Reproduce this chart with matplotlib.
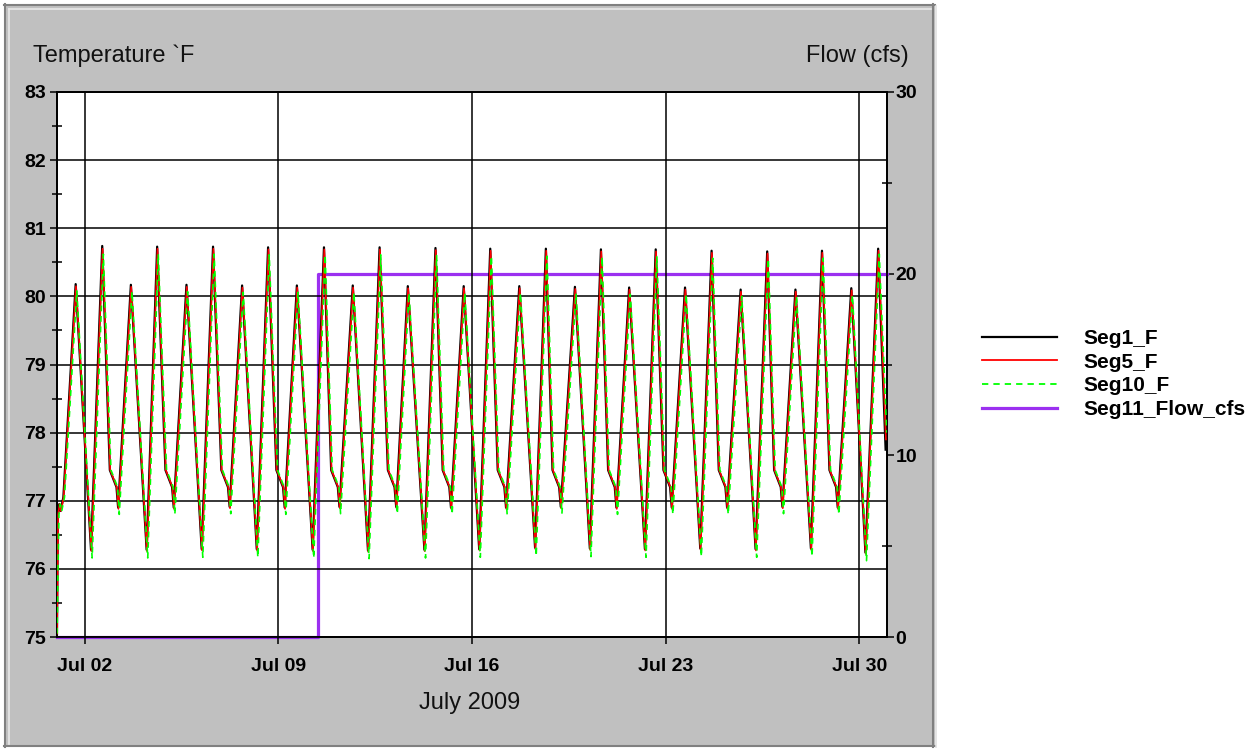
import numpy as np
import matplotlib
matplotlib.use('Agg')
import matplotlib.pyplot as plt
import matplotlib.dates as mdates
from matplotlib.ticker import MultipleLocator
from matplotlib.patches import Rectangle
from matplotlib.lines import Line2D

plt.rcParams['font.family'] = ['Liberation Sans', 'DejaVu Sans']

# ---- data (days after 2009-07-01 00:00) ----
start_t = [0.0, 0.03, 0.08, 0.13, 0.18, 0.23]
start_v = [75.05, 76.80, 76.95, 76.85, 76.95, 77.05]

peak_t = [0.675, 1.635, 2.67, 3.62, 4.68, 5.64, 6.69, 7.63, 8.67, 9.65,
          10.69, 11.66, 12.68, 13.68, 14.70, 15.66, 16.71, 17.67, 18.72, 19.66,
          20.68, 21.64, 22.70, 23.66, 24.71, 25.67, 26.69, 27.65, 28.71, 29.68]
seg1_peak = [80.18, 80.74, 80.17, 80.73, 80.17, 80.73, 80.16, 80.72, 80.16, 80.72,
             80.16, 80.72, 80.15, 80.71, 80.15, 80.70, 80.15, 80.70, 80.14, 80.69,
             80.13, 80.69, 80.13, 80.67, 80.10, 80.66, 80.10, 80.67, 80.12, 80.70]
seg5_peak = [80.15, 80.70, 80.14, 80.70, 80.14, 80.70, 80.13, 80.69, 80.13, 80.69,
             80.13, 80.69, 80.12, 80.68, 80.12, 80.67, 80.12, 80.67, 80.11, 80.66,
             80.10, 80.66, 80.10, 80.64, 80.07, 80.63, 80.07, 80.64, 80.09, 80.67]
seg10_peak = [80.08, 80.62, 80.07, 80.62, 80.07, 80.62, 80.06, 80.61, 80.06, 80.61,
              80.06, 80.61, 80.05, 80.60, 80.05, 80.59, 80.05, 80.59, 80.04, 80.58,
              80.03, 80.58, 80.03, 80.56, 80.00, 80.55, 80.00, 80.56, 80.02, 80.62]

trough_t = [1.23, 2.21, 3.24, 4.22, 5.23, 6.24, 7.22, 8.23, 9.24, 10.21,
            11.24, 12.26, 13.28, 14.24, 15.26, 16.23, 17.28, 18.21, 19.26, 20.22,
            21.25, 22.22, 23.25, 24.22, 25.25, 26.22, 27.25, 28.22, 29.22]
seg1_trough = [76.28, 76.90, 76.28, 76.90, 76.29, 76.91, 76.29, 76.90, 76.28, 76.91,
               76.27, 76.91, 76.28, 76.90, 76.29, 76.90, 76.31, 76.91, 76.30, 76.90,
               76.29, 76.90, 76.30, 76.90, 76.29, 76.91, 76.30, 76.90, 76.24]
seg5_trough = [76.26, 76.88, 76.26, 76.88, 76.27, 76.89, 76.27, 76.88, 76.26, 76.89,
               76.25, 76.89, 76.26, 76.88, 76.27, 76.88, 76.29, 76.89, 76.28, 76.88,
               76.27, 76.88, 76.28, 76.88, 76.27, 76.89, 76.28, 76.88, 76.22]
seg10_trough = [76.16, 76.80, 76.16, 76.80, 76.17, 76.81, 76.17, 76.80, 76.16, 76.81,
                76.15, 76.81, 76.16, 76.80, 76.17, 76.80, 76.19, 76.81, 76.18, 76.80,
                76.17, 76.80, 76.18, 76.80, 76.17, 76.81, 76.18, 76.80, 76.12]

# shoulder on the slow fall before the shallow troughs
shoulder_t = [1.91, 2.15, 3.92, 4.16, 5.94, 6.18, 7.93, 8.17, 9.91, 10.15,
              11.96, 12.20, 13.94, 14.18, 15.93, 16.17, 17.91, 18.15, 19.92, 20.16,
              21.92, 22.16, 23.92, 24.16, 25.92, 26.16, 27.92, 28.16]
shoulder_v = [77.45, 77.20] * 14

end_t = [29.95]
seg1_end = [77.75]
seg5_end = [77.90]
seg10_end = [78.00]

lag_days = {'Seg1_F': 0.0, 'Seg5_F': 0.012, 'Seg10_F': 0.04}

flow_t = [0.0, 9.43, 30.0]
flow_v = [0.0, 20.0, 20.0]

base = np.datetime64('2009-07-01T00:00')


def to_dates(days):
    return base + (np.asarray(days) * 1440).round().astype('timedelta64[m]')


def build(peaks, troughs, end, lag):
    t = np.concatenate([start_t, peak_t, trough_t, shoulder_t, end_t])
    v = np.concatenate([start_v, peaks, troughs, shoulder_v, end])
    order = np.argsort(t)
    t = t[order] + lag
    t[0] = 0.0
    return to_dates(t), v[order]


W, H = 1257, 749
fig = plt.figure(figsize=(W / 100, H / 100), dpi=100, facecolor='white')

# grey panel with 3D border
fig.add_artist(Rectangle((4 / W, 1 - 747 / H), 931 / W, 743 / H, transform=fig.transFigure,
                         facecolor='#C0C0C0', edgecolor='none', zorder=-10))


def fline(xs, ys, color, lw):
    fig.add_artist(Line2D([x / W for x in xs], [1 - y / H for y in ys], transform=fig.transFigure,
                          color=color, lw=lw, zorder=-9))


fline([4, 935], [5, 5], '#808080', 1.5)
fline([5, 5], [4, 747], '#808080', 1.5)
fline([933, 933], [4, 747], '#808080', 1.5)
fline([4, 935], [746, 746], '#808080', 1.5)
fline([9, 931], [9, 9], '#E8E8E8', 1.2)
fline([9, 9], [9, 744], '#E8E8E8', 1.2)
fline([936, 936], [6, 747], '#E0E0E0', 1.2)

ax = fig.add_axes([57 / W, 1 - 637 / H, 830 / W, 545 / H])
ax2 = ax.twinx()
ax.set_zorder(ax2.get_zorder() + 1)
ax.patch.set_visible(False)
ax2.patch.set_visible(True)
ax2.patch.set_facecolor('white')

# flow (right axis), under the temperature lines
ax2.plot(to_dates(flow_t), flow_v, drawstyle='steps-post', color='#9B30F0', lw=2.3,
         clip_on=False, zorder=3)
ax2.set_ylim(0, 30)
ax2.yaxis.set_major_locator(MultipleLocator(10))
ax2.yaxis.set_minor_locator(MultipleLocator(5))

t1, v1 = build(seg1_peak, seg1_trough, seg1_end, lag_days['Seg1_F'])
t5, v5 = build(seg5_peak, seg5_trough, seg5_end, lag_days['Seg5_F'])
t10, v10 = build(seg10_peak, seg10_trough, seg10_end, lag_days['Seg10_F'])
ax.plot(t1, v1, color='black', lw=1.6, zorder=3)
ax.plot(t5, v5, color='#FF0000', lw=1.2, zorder=4)
ax.plot(t10, v10, color='#00FF00', lw=1.2, linestyle=(0, (3.5, 2.8)), zorder=5)

ax.set_ylim(75, 83)
ax.set_xlim(to_dates([0.0])[0], to_dates([30.0])[0])
ax.yaxis.set_major_locator(MultipleLocator(1))
ax.yaxis.set_minor_locator(MultipleLocator(0.5))
ax.xaxis.set_major_locator(mdates.DayLocator(bymonthday=[2, 9, 16, 23, 30]))
ax.xaxis.set_major_formatter(mdates.DateFormatter('%b %d'))
ax.grid(True, which='major', color='black', lw=1.1)

for a in (ax, ax2):
    for s in a.spines.values():
        s.set_linewidth(1.3)
        s.set_color('black')

ax.tick_params(axis='y', which='major', direction='out', length=5, width=1.1, pad=3,
               labelsize=14)
ax.tick_params(axis='y', which='minor', direction='inout', length=7, width=1.1)
ax.tick_params(axis='x', which='major', direction='out', length=5, width=1.1, pad=10,
               labelsize=14)
ax2.tick_params(axis='y', which='major', direction='out', length=5, width=1.1, pad=1,
                labelsize=14)
ax2.tick_params(axis='y', which='minor', direction='inout', length=7, width=1.1)
for lab in ax.get_xticklabels() + ax.get_yticklabels() + ax2.get_yticklabels():
    lab.set_fontweight('bold')

fig.text(33 / W, 1 - 56 / H, 'Temperature `F', fontsize=17, color='#111111', va='center', ha='left')
fig.text(909 / W, 1 - 56 / H, 'Flow (cfs)', fontsize=17, color='#111111', va='center', ha='right')
fig.text(470 / W, 1 - 703 / H, 'July 2009', fontsize=17, color='#111111', va='center', ha='center')

handles = [Line2D([], [], color='black', lw=1.6),
           Line2D([], [], color='#FF0000', lw=1.3),
           Line2D([], [], color='#00FF00', lw=1.3, linestyle=(0, (3.5, 2.8))),
           Line2D([], [], color='#9B30F0', lw=2.3)]
labels = ['Seg1_F', 'Seg5_F', 'Seg10_F', 'Seg11_Flow_cfs']
fig.legend(handles, labels, loc='center left', bbox_to_anchor=(982 / W, 1 - 374 / H),
           frameon=False, borderpad=0, borderaxespad=0, handlelength=3.6,
           handletextpad=1.25, labelspacing=0.22, prop={'size': 15, 'weight': 'bold'})

fig.savefig('out.png', dpi=100, facecolor='white')
